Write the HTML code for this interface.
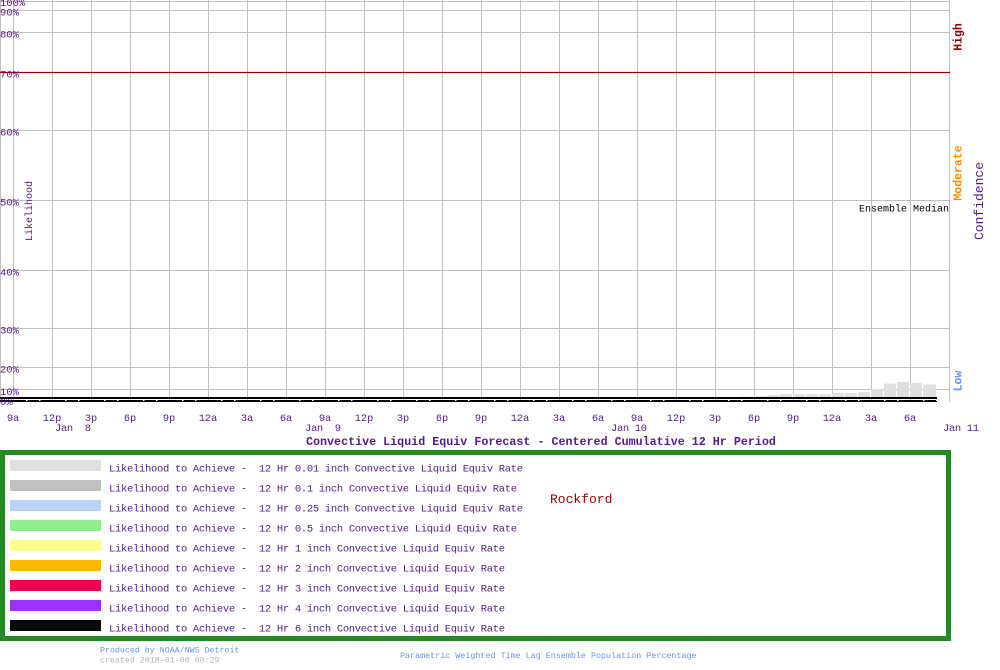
<!DOCTYPE html>
<html><head><meta charset="utf-8"><style>
html,body{margin:0;padding:0;background:#fff;}
svg{display:block;}
text{font-family:"Liberation Mono","DejaVu Sans Mono",monospace;}
</style></head><body>
<svg width="1000" height="670" viewBox="0 0 1000 670" xmlns="http://www.w3.org/2000/svg">
<rect width="1000" height="670" fill="#fff"/>
<g stroke="#c0c0c0" stroke-width="1">
<line x1="0" y1="1.5" x2="949" y2="1.5"/>
<line x1="0" y1="10.5" x2="949" y2="10.5"/>
<line x1="0" y1="32.5" x2="949" y2="32.5"/>
<line x1="0" y1="130.5" x2="949" y2="130.5"/>
<line x1="0" y1="200.5" x2="949" y2="200.5"/>
<line x1="0" y1="270.5" x2="949" y2="270.5"/>
<line x1="0" y1="328.5" x2="949" y2="328.5"/>
<line x1="0" y1="367.5" x2="949" y2="367.5"/>
<line x1="0" y1="389.5" x2="949" y2="389.5"/>
<line x1="0.5" y1="0" x2="0.5" y2="402"/>
<line x1="13.5" y1="0" x2="13.5" y2="402"/><line x1="52.5" y1="0" x2="52.5" y2="402"/><line x1="91.5" y1="0" x2="91.5" y2="402"/><line x1="130.5" y1="0" x2="130.5" y2="402"/><line x1="169.5" y1="0" x2="169.5" y2="402"/><line x1="208.5" y1="0" x2="208.5" y2="402"/><line x1="247.5" y1="0" x2="247.5" y2="402"/><line x1="286.5" y1="0" x2="286.5" y2="402"/><line x1="325.5" y1="0" x2="325.5" y2="402"/><line x1="364.5" y1="0" x2="364.5" y2="402"/><line x1="403.5" y1="0" x2="403.5" y2="402"/><line x1="442.5" y1="0" x2="442.5" y2="402"/><line x1="481.5" y1="0" x2="481.5" y2="402"/><line x1="520.5" y1="0" x2="520.5" y2="402"/><line x1="559.5" y1="0" x2="559.5" y2="402"/><line x1="598.5" y1="0" x2="598.5" y2="402"/><line x1="637.5" y1="0" x2="637.5" y2="402"/><line x1="676.5" y1="0" x2="676.5" y2="402"/><line x1="715.5" y1="0" x2="715.5" y2="402"/><line x1="754.5" y1="0" x2="754.5" y2="402"/><line x1="793.5" y1="0" x2="793.5" y2="402"/><line x1="832.5" y1="0" x2="832.5" y2="402"/><line x1="871.5" y1="0" x2="871.5" y2="402"/><line x1="910.5" y1="0" x2="910.5" y2="402"/><line x1="949.5" y1="0" x2="949.5" y2="402"/>
</g>
<line x1="0" y1="72.5" x2="950" y2="72.5" stroke="#9b0000" stroke-width="1.3"/>
<g fill="#e0e0e0">
<rect x="741" y="396.5" width="12" height="1"/>
<rect x="754" y="396" width="12" height="2"/>
<rect x="767" y="395" width="12" height="3"/>
<rect x="780" y="394" width="12" height="4"/>
<rect x="793" y="394" width="12" height="4"/>
<rect x="806" y="394" width="12" height="4"/>
<rect x="819" y="394" width="12" height="4"/>
<rect x="832" y="393" width="12" height="5"/>
<rect x="845" y="393" width="12" height="5"/>
<rect x="858" y="392" width="12" height="6"/>
<rect x="871" y="389" width="12" height="9"/>
<rect x="884" y="383.5" width="12" height="14.5"/>
<rect x="897" y="382" width="12" height="16"/>
<rect x="910" y="383" width="12" height="15"/>
<rect x="923" y="384.5" width="13" height="13.5"/>
</g>
<rect x="0" y="397" width="937" height="2" fill="#000"/>
<rect x="0" y="400" width="937" height="2" fill="#000"/>
<g font-size="10.5" fill="#551a8b">
<text x="0" y="6">100%</text>
<text x="0" y="15.5">90%</text>
<text x="0" y="37.5">80%</text>
<text x="0" y="77.5">70%</text>
<text x="0" y="135.5">60%</text>
<text x="0" y="205.5">50%</text>
<text x="0" y="275.5">40%</text>
<text x="0" y="333.5">30%</text>
<text x="0" y="372.5">20%</text>
<text x="0" y="395">10%</text>
<text x="0" y="405">0%</text>
</g>
<text transform="translate(32,211) rotate(-90)" text-anchor="middle" font-size="10" fill="#551a8b">Likelihood</text>
<g font-weight="bold" font-size="11.5" text-anchor="middle">
<text transform="translate(961.5,37) rotate(-90)" fill="#8b0000">High</text>
<text transform="translate(961.5,173) rotate(-90)" fill="#ff8c00">Moderate</text>
<text transform="translate(961.5,381) rotate(-90)" fill="#6495ed">Low</text>
</g>
<text transform="translate(983,201) rotate(-90)" text-anchor="middle" font-size="13" fill="#551a8b">Confidence</text>
<text x="949" y="211.5" text-anchor="end" font-size="10" fill="#000">Ensemble Median</text>
<g font-size="10.3" fill="#551a8b" text-anchor="middle">
<text x="13" y="421">9a</text><text x="52" y="421">12p</text><text x="91" y="421">3p</text><text x="130" y="421">6p</text><text x="169" y="421">9p</text><text x="208" y="421">12a</text><text x="247" y="421">3a</text><text x="286" y="421">6a</text>
<text x="325" y="421">9a</text><text x="364" y="421">12p</text><text x="403" y="421">3p</text><text x="442" y="421">6p</text><text x="481" y="421">9p</text><text x="520" y="421">12a</text><text x="559" y="421">3a</text><text x="598" y="421">6a</text>
<text x="637" y="421">9a</text><text x="676" y="421">12p</text><text x="715" y="421">3p</text><text x="754" y="421">6p</text><text x="793" y="421">9p</text><text x="832" y="421">12a</text><text x="871" y="421">3a</text><text x="910" y="421">6a</text>
</g>
<g font-size="10.5" fill="#551a8b">
<text x="55" y="431" xml:space="preserve" textLength="36" lengthAdjust="spacing">Jan  8</text>
<text x="305" y="431" xml:space="preserve" textLength="36" lengthAdjust="spacing">Jan  9</text>
<text x="611" y="431" textLength="36" lengthAdjust="spacing">Jan 10</text>
<text x="943" y="431" textLength="36" lengthAdjust="spacing">Jan 11</text>
</g>
<text x="306" y="445" font-size="11.7" font-weight="bold" fill="#551a8b">Convective Liquid Equiv Forecast - Centered Cumulative 12 Hr Period</text>
<rect x="2.5" y="452.5" width="946" height="186" fill="none" stroke="#228b22" stroke-width="5"/>
<rect x="10" y="460" width="91" height="11" fill="#e0e0e0"/>
<rect x="10" y="480" width="91" height="11" fill="#c0c0c0"/>
<rect x="10" y="500" width="91" height="11" fill="#b9d3f9"/>
<rect x="10" y="520" width="91" height="11" fill="#90ee90"/>
<rect x="10" y="540" width="91" height="11" fill="#ffff8a"/>
<rect x="10" y="560" width="91" height="11" fill="#ffba00"/>
<rect x="10" y="580" width="91" height="11" fill="#f0004f"/>
<rect x="10" y="600" width="91" height="11" fill="#9b30ff"/>
<rect x="10" y="620" width="91" height="11" fill="#0a0a0a"/>
<g font-size="10.5" fill="#551a8b">
<text x="109" y="471.5" xml:space="preserve" textLength="414" lengthAdjust="spacing">Likelihood to Achieve -  12 Hr 0.01 inch Convective Liquid Equiv Rate</text>
<text x="109" y="491.5" xml:space="preserve" textLength="408" lengthAdjust="spacing">Likelihood to Achieve -  12 Hr 0.1 inch Convective Liquid Equiv Rate</text>
<text x="109" y="511.5" xml:space="preserve" textLength="414" lengthAdjust="spacing">Likelihood to Achieve -  12 Hr 0.25 inch Convective Liquid Equiv Rate</text>
<text x="109" y="531.5" xml:space="preserve" textLength="408" lengthAdjust="spacing">Likelihood to Achieve -  12 Hr 0.5 inch Convective Liquid Equiv Rate</text>
<text x="109" y="551.5" xml:space="preserve" textLength="396" lengthAdjust="spacing">Likelihood to Achieve -  12 Hr 1 inch Convective Liquid Equiv Rate</text>
<text x="109" y="571.5" xml:space="preserve" textLength="396" lengthAdjust="spacing">Likelihood to Achieve -  12 Hr 2 inch Convective Liquid Equiv Rate</text>
<text x="109" y="591.5" xml:space="preserve" textLength="396" lengthAdjust="spacing">Likelihood to Achieve -  12 Hr 3 inch Convective Liquid Equiv Rate</text>
<text x="109" y="611.5" xml:space="preserve" textLength="396" lengthAdjust="spacing">Likelihood to Achieve -  12 Hr 4 inch Convective Liquid Equiv Rate</text>
<text x="109" y="631.5" xml:space="preserve" textLength="396" lengthAdjust="spacing">Likelihood to Achieve -  12 Hr 6 inch Convective Liquid Equiv Rate</text>
</g>
<text x="550" y="503" font-size="13" fill="#990000">Rockford</text>
<text x="100" y="652.3" font-size="8.3" fill="#6495ed">Produced by NOAA/NWS Detroit</text>
<text x="100" y="662.3" font-size="8.3" fill="#b4b4b4">created 2018-01-08 08:29</text>
<text x="400" y="658" font-size="8.4" fill="#6495ed">Parametric Weighted Time Lag Ensemble Population Percentage</text>
<g fill="#fff" id="tk"></g>
<script>
(function(){var g=document.getElementById('tk');for(var h=1;h<72;h++){if(h%3===0)continue;var r=document.createElementNS('http://www.w3.org/2000/svg','rect');r.setAttribute('x',13+13*h);r.setAttribute('y',399);r.setAttribute('width',1.5);r.setAttribute('height',2);g.appendChild(r);}})();
</script>
</svg>
</body></html>
